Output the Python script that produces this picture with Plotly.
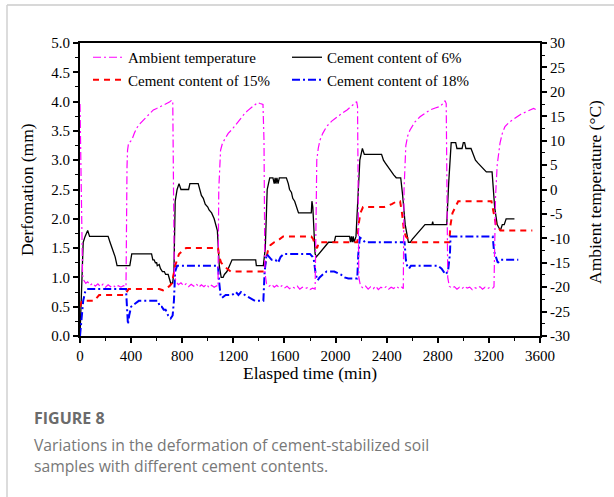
import plotly.graph_objects as go

# ---------------- data ----------------
# Cement content of 6% (deformation, mm)
t_c6 = [0, 12, 25, 40, 60, 75, 220, 235, 250, 262, 275, 290, 390, 405, 560, 570, 580, 590, 600, 605, 620, 630,
        645, 660, 670, 690, 700, 710, 725, 735, 745, 760, 775, 790, 850, 860, 925, 940, 950, 965, 980, 1000,
        1010, 1030, 1050, 1075, 1090, 1105, 1120, 1130, 1150, 1170, 1190, 1375, 1380, 1435, 1450, 1465, 1485,
        1510, 1520, 1527, 1534, 1541, 1550, 1560, 1615, 1630, 1640, 1655, 1665, 1680, 1695, 1710, 1810, 1815,
        1822, 1840, 1850, 1870, 1890, 1905, 1925, 1945, 1990, 2000, 2110, 2117, 2124, 2131, 2138, 2145, 2160,
        2175, 2190, 2210, 2225, 2360, 2375, 2390, 2405, 2420, 2440, 2455, 2475, 2510, 2525, 2545, 2570, 2585,
        2600, 2620, 2660, 2700, 2755, 2760, 2765, 2870, 2885, 2905, 2940, 2950, 2990, 3000, 3010, 3020, 3060,
        3075, 3095, 3115, 3135, 3155, 3180, 3225, 3245, 3265, 3290, 3305, 3320, 3335, 3400]
d_c6 = [0.0, 0.8, 1.6, 1.7, 1.8, 1.7, 1.7, 1.6, 1.5, 1.45, 1.35, 1.2, 1.2, 1.4, 1.4, 1.3, 1.3, 1.25, 1.25, 1.2, 1.22, 1.15,
        1.1, 1.1, 1.05, 1.05, 0.95, 0.9, 0.9, 1.1, 2.3, 2.5, 2.6, 2.5, 2.5, 2.6, 2.6, 2.5, 2.4, 2.35, 2.25, 2.2,
        2.15, 2.1, 2.0, 1.8, 1.2, 1.0, 1.0, 1.05, 1.1, 1.2, 1.3, 1.3, 1.2, 1.2, 1.5, 2.5, 2.7,
        2.7, 2.6, 2.7, 2.6, 2.7, 2.6, 2.7, 2.7, 2.6, 2.5, 2.45, 2.35, 2.3, 2.2, 2.1, 2.1, 2.3,
        2.2, 1.4, 1.35, 1.4, 1.45, 1.5, 1.55, 1.6, 1.6, 1.7, 1.7, 1.6, 1.7, 1.6, 1.7, 1.6, 1.7,
        2.3, 3.0, 3.2, 3.1, 3.1, 3.0, 2.95, 2.9, 2.85, 2.8, 2.75, 2.7, 2.7, 2.4, 1.9, 1.6, 1.6,
        1.65, 1.7, 1.8, 1.9, 1.9, 1.95, 1.9, 1.9, 2.6, 3.3, 3.3, 3.2, 3.2, 3.3, 3.3, 3.2, 3.2,
        3.1, 3.0, 2.95, 2.9, 2.85, 2.8, 2.8, 2.2, 1.9, 1.8, 1.9, 1.9, 2.0, 2.0]

# Cement content of 15% (deformation, mm)
t_c15 = [0, 15, 110, 130, 150, 350, 365, 380, 620, 650, 680, 700, 720, 735, 745, 760, 775, 800, 830, 1080, 1090,
         1105, 1125, 1150, 1180, 1440, 1455, 1470, 1490, 1520, 1560, 1590, 1810, 1825, 1840, 1855, 1870, 2170,
         2180, 2195, 2215, 2380, 2440, 2480, 2505, 2520, 2535, 2550, 2570, 2590, 2890, 2900, 2915, 2935, 2960,
         3220, 3240, 3255, 3275, 3290, 3540]
d_c15 = [0.5, 0.6, 0.6, 0.65, 0.7, 0.7, 0.75, 0.8, 0.8, 0.78, 0.82, 0.85, 0.9, 1.1, 1.2, 1.3, 1.4, 1.45, 1.5, 1.5, 1.35,
         1.25, 1.2, 1.15, 1.1, 1.1, 1.3, 1.45, 1.55, 1.6, 1.65, 1.7, 1.7, 1.65, 1.55, 1.5, 1.6, 1.6,
         1.9, 2.1, 2.2, 2.2, 2.25, 2.3, 2.3, 2.1, 1.8, 1.7, 1.65, 1.6, 1.6, 1.9, 2.1, 2.2, 2.3,
         2.3, 2.1, 1.9, 1.85, 1.8, 1.8]

# Cement content of 18% (deformation, mm)
t_c18 = [0, 15, 25, 40, 55, 360, 368, 375, 385, 400, 430, 460, 610, 625, 640, 655, 670, 690, 710, 725, 735, 745,
         760, 1080, 1090, 1100, 1110, 1140, 1190, 1220, 1240, 1260, 1290, 1330, 1370, 1435, 1445, 1460, 1480,
         1500, 1530, 1550, 1570, 1595, 1800, 1820, 1830, 1845, 1860, 1875, 1900, 1930, 1990, 2010, 2040, 2070,
         2100, 2170, 2178, 2190, 2210, 2230, 2540, 2550, 2560, 2575, 2590, 2800, 2830, 2860, 2880, 2895, 2900,
         3230, 3240, 3255, 3270, 3290, 3430]
d_c18 = [0.0, 0.3, 0.6, 0.75, 0.8, 0.8, 0.5, 0.2, 0.35, 0.5, 0.55, 0.6, 0.6, 0.5, 0.5, 0.45, 0.45, 0.35, 0.3, 0.35, 0.6, 1.1,
         1.2, 1.2, 0.9, 0.7, 0.65, 0.7, 0.7, 0.75, 0.7, 0.75, 0.7, 0.65, 0.6, 0.6, 1.1, 1.4, 1.35,
         1.3, 1.3, 1.25, 1.35, 1.4, 1.4, 1.35, 1.3, 1.05, 0.95, 1.0, 1.05, 1.1, 1.1, 1.08, 1.05, 1.0,
         0.98, 0.98, 1.4, 1.68, 1.65, 1.6, 1.6, 1.3, 1.2, 1.15, 1.2, 1.2, 1.15, 1.05, 1.1, 1.4, 1.7,
         1.7, 1.45, 1.35, 1.25, 1.3, 1.3]

# Ambient temperature (deg C, right axis)
t_amb = [0, 5, 12, 20, 30, 45, 60, 80, 100, 120, 140, 160, 180, 200, 220, 240, 260, 280, 300, 320, 340, 360,
         368, 372, 380, 405, 425, 444, 470, 495, 520, 545, 574, 600, 625, 652, 680, 700, 718, 726, 732, 738,
         750, 770, 790, 810, 830, 850, 870, 890, 910, 930, 950, 970, 990, 1010, 1030, 1050, 1070, 1080,
         1086, 1092, 1100, 1115, 1135, 1160, 1190, 1220, 1250, 1270, 1290, 1310, 1330, 1350, 1370, 1390, 1410, 1432, 1440, 1447,
         1460, 1480, 1500, 1520, 1540, 1560, 1580, 1600, 1620, 1640, 1660, 1680, 1700, 1720, 1740, 1760, 1780, 1800, 1820, 1840,
         1848, 1853, 1865, 1878, 1900, 1930, 1970, 2010, 2050, 2090, 2120, 2152, 2165, 2172, 2177, 2182,
         2195, 2215, 2235, 2255, 2275, 2295, 2315, 2335, 2355, 2375, 2395, 2415, 2435, 2455, 2475, 2495, 2515, 2530,
         2536, 2542, 2550, 2565, 2583, 2620, 2661, 2700, 2740, 2780, 2817, 2845, 2857, 2866, 2872, 2878,
         2890, 2910, 2930, 2950, 2970, 2990, 3010, 3030, 3050, 3070, 3090, 3110, 3130, 3150, 3170, 3190, 3210, 3230, 3240,
         3246, 3252, 3265, 3287, 3305, 3326, 3360, 3404, 3450, 3490, 3522, 3550, 3574]
temp_amb = [17.5, 8, -10, -17.5, -18.6, -19.2, -18.9, -19.6, -19.2, -19.8, -19.3, -19.9, -19.4, -20.0, -19.5, -19.9, -19.6, -20.1, -19.7, -20.0, -19.7, -19.9,
            4.7, 8, 9.5, 10.1, 11.5, 12.6, 13.5, 14.2, 15.0, 15.5, 16.3, 16.6, 16.9, 17.3, 17.6, 17.9, 18.3, 17.9, 0, -17,
            -18.8, -19.5, -19.1, -19.7, -19.3, -19.9, -19.4, -19.8, -19.3, -20.0, -19.5, -19.9, -19.4, -20.1, -19.6, -20.0, -19.7, -19.9,
            0, 5.5, 8, 9.5, 10.5, 11.5, 12.3, 13.3, 14.5, 15.0, 15.6, 16.1, 16.5, 16.9, 17.3, 17.8, 17.6, 17.4, 10, -17,
            -19.3, -19.8, -19.4, -20.0, -19.6, -20.1, -19.7, -20.2, -19.8, -20.3, -19.9, -20.2, -19.8, -20.4, -20.0, -20.3, -20.1, -20.5, -20.2, -20.4,
            -5, 6, 8.5, 10.1, 11.5, 12.9, 14.0, 14.9, 15.6, 16.3, 16.9, 17.7, 18.0, 17.0, 0, -18,
            -19.7, -20.2, -19.8, -20.4, -19.9, -20.3, -19.8, -20.5, -20.0, -20.3, -19.9, -20.4, -20.0, -20.3, -19.8, -20.2, -19.9, -20.3,
            0, 5.4, 9, 11, 12.2, 13.8, 14.9, 15.6, 16.3, 16.7, 17.0, 17.7, 18.2, 17.6, 0, -18,
            -19.8, -20.2, -19.9, -20.4, -20.0, -20.3, -19.8, -20.2, -20.0, -20.5, -20.1, -20.3, -19.9, -20.4, -20.0, -20.3, -20.0, -20.2, -19.9,
            -10, -1.5, 5, 9.5, 11.5, 12.9, 13.8, 14.6, 15.4, 15.9, 16.3, 16.6, 16.3]

series_names = ["Ambient temperature", "Cement content of 6%", "Cement content of 15%", "Cement content of 18%"]

x_ticks = [0, 400, 800, 1200, 1600, 2000, 2400, 2800, 3200, 3600]
temp_ticks = [-30, -25, -20, -15, -10, -5, 0, 5, 10, 15, 20, 25, 30]
temp_ticktext = ["-30", "-25", "-20", "-15", "-10", "-5", "0", "5", "10", "15", "20", "25", "30"]

caption_title = "FIGURE 8"
caption_lines = ["Variations in the deformation of cement-stabilized soil",
                 "samples with different cement contents."]

# ---------------- figure ----------------
W, H = 614, 497
L, R, T, B = 80, 540, 43, 336


def px(x):
    return (x - L) / (R - L)


def py(y):
    return (B - y) / (B - T)


SERIF = "Liberation Serif"
fig = go.Figure()

fig.add_trace(go.Scatter(x=t_c6, y=d_c6, mode="lines", name=series_names[1], legendrank=2,
                         line=dict(color="black", width=1.3)))
fig.add_trace(go.Scatter(x=t_c15, y=d_c15, mode="lines", name=series_names[2], legendrank=3,
                         line=dict(color="#ff0000", width=2, dash="6px,5px")))
fig.add_trace(go.Scatter(x=t_c18, y=d_c18, mode="lines", name=series_names[3], legendrank=4,
                         line=dict(color="#0000ff", width=2, dash="8px,3px,2px,3px")))
fig.add_trace(go.Scatter(x=t_amb, y=temp_amb, mode="lines", name=series_names[0], legendrank=1, yaxis="y2",
                         line=dict(color="#ff00ff", width=1.2, dash="8px,3px,2px,3px")))

tickfont = dict(family=SERIF, size=15, color="black")
fig.update_layout(
    width=W, height=H,
    margin=dict(l=L, r=W - R, t=T, b=H - B, pad=0),
    paper_bgcolor="white", plot_bgcolor="white",
    showlegend=True,
    legend=dict(orientation="h", x=px(88), y=py(41), xanchor="left", yanchor="top",
                entrywidth=154, entrywidthmode="pixels", bgcolor="rgba(0,0,0,0)",
                font=dict(family=SERIF, size=15, color="black"), tracegroupgap=0, itemwidth=30),
    xaxis=dict(range=[0, 3600], tickvals=x_ticks, ticks="outside", ticklen=5, tickwidth=1.5,
               minor=dict(dtick=200, ticks="outside", ticklen=3, tickwidth=1.2),
               showline=True, linewidth=2, linecolor="black", mirror=True,
               showgrid=False, zeroline=False, tickfont=tickfont, tickcolor="black"),
    yaxis=dict(range=[0, 5], dtick=0.5, tickformat=".1f", ticks="outside", ticklen=5, tickwidth=1.5,
               minor=dict(dtick=0.25, ticks="outside", ticklen=3, tickwidth=1.2),
               showline=True, linewidth=2, linecolor="black",
               showgrid=False, zeroline=False, tickfont=tickfont, tickcolor="black"),
    yaxis2=dict(range=[-30, 30], tickvals=temp_ticks, ticktext=temp_ticktext, overlaying="y", side="right",
                ticks="outside", ticklen=5, tickwidth=1.5,
                minor=dict(dtick=2.5, ticks="outside", ticklen=3, tickwidth=1.2),
                showline=True, linewidth=2, linecolor="black",
                showgrid=False, zeroline=False, tickfont=tickfont, tickcolor="black"),
)

ann = []
ann.append(dict(text="Elasped time (min)", x=px(310), y=py(373), xref="paper", yref="paper",
                showarrow=False, font=dict(family=SERIF, size=17.5, color="black"), xanchor="center", yanchor="middle"))
ann.append(dict(text="Derfomation (mm)", x=px(27), y=py(190), xref="paper", yref="paper", textangle=-90,
                showarrow=False, font=dict(family=SERIF, size=17.5, color="black"), xanchor="center", yanchor="middle"))
ann.append(dict(text="Ambient temperature (°C)", x=px(595), y=py(192), xref="paper", yref="paper", textangle=-90,
                showarrow=False, font=dict(family=SERIF, size=17.5, color="black"), xanchor="center", yanchor="middle"))
ann.append(dict(text="<b>" + caption_title + "</b>", x=px(32), y=py(418), xref="paper", yref="paper",
                showarrow=False, font=dict(family="Open Sans", size=16, color="#6b6b6b"), xanchor="left", yanchor="middle"))
ann.append(dict(text=caption_lines[0], x=px(32), y=py(445), xref="paper", yref="paper",
                showarrow=False, font=dict(family="Open Sans", size=15.7, color="#777777"), xanchor="left", yanchor="middle"))
ann.append(dict(text=caption_lines[1], x=px(32), y=py(466), xref="paper", yref="paper",
                showarrow=False, font=dict(family="Open Sans", size=15.7, color="#777777"), xanchor="left", yanchor="middle"))
fig.update_layout(annotations=ann)

fig.add_shape(type="line", xref="paper", yref="paper", x0=px(7), x1=px(620), y0=py(5), y1=py(5),
              line=dict(color="#d8d8d8", width=2))
fig.add_shape(type="line", xref="paper", yref="paper", x0=px(7), x1=px(7), y0=py(5), y1=py(500),
              line=dict(color="#d0d0d0", width=1.5))

fig.write_html("out.html")
